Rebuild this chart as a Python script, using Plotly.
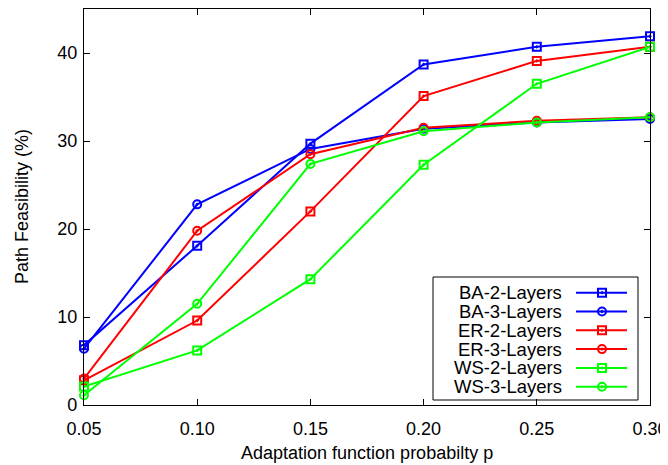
import plotly.graph_objects as go

p = [0.05, 0.10, 0.15, 0.20, 0.25, 0.30]
tick_labels = ["0.05", "0.10", "0.15", "0.20", "0.25", "0.30"]
y_ticks = [0, 10, 20, 30, 40]

names = ["BA-2-Layers", "BA-3-Layers", "ER-2-Layers", "ER-3-Layers", "WS-2-Layers", "WS-3-Layers"]
ba2 = [6.8, 18.1, 29.7, 38.7, 40.7, 41.9]
ba3 = [6.4, 22.8, 29.1, 31.4, 32.1, 32.5]
er2 = [2.8, 9.6, 22.0, 35.1, 39.1, 40.7]
er3 = [3.0, 19.8, 28.5, 31.5, 32.3, 32.7]
ws2 = [2.1, 6.2, 14.3, 27.3, 36.5, 40.7]
ws3 = [1.1, 11.5, 27.4, 31.1, 32.1, 32.7]

series = [ba2, ba3, er2, er3, ws2, ws3]
colors = ["#0000ff", "#0000ff", "#ff0000", "#ff0000", "#00ff00", "#00ff00"]
symbols = ["square-open-dot", "circle-open-dot"] * 3

FONT = "Liberation Sans, Arial, sans-serif"
OFF = 8  # default page body margin
W, H = 668 - OFF, 465 - OFF
# plot area in page pixels: left 84, right 650, top 9, bottom 405
L, R, T, B = 84 - OFF, W - (650 - OFF), 9 - OFF, H - (405 - OFF)
PW, PH = W - L - R, H - T - B

fig = go.Figure()
for name, vals, c, s in zip(names, series, colors, symbols):
    fig.add_trace(go.Scatter(
        x=p, y=vals, name=name, mode="lines+markers",
        line=dict(color=c, width=2),
        marker=dict(symbol=s, size=8, color=c, line=dict(color=c, width=2)),
        cliponaxis=False, showlegend=False,
    ))

# custom gnuplot-style legend (text right, sample on the right), page-pixel overlay axes
row0, dy = 292.7, 18.8
for i, (name, c, s) in enumerate(zip(names, colors, symbols)):
    yy = row0 + i * dy
    fig.add_trace(go.Scatter(
        x=[576, 602, 627], y=[yy, yy, yy], mode="lines+markers",
        line=dict(color=c, width=2),
        marker=dict(symbol=s, size=8, color=c, line=dict(color=c, width=2),
                    opacity=[0, 1, 0]),
        xaxis="x2", yaxis="y2", showlegend=False, hoverinfo="skip", cliponaxis=False,
    ))
    fig.add_annotation(x=564, y=yy, xref="x2", yref="y2", text=name,
                       xanchor="right", yanchor="middle", showarrow=False,
                       font=dict(family=FONT, size=18.5, color="black"))

fig.add_shape(type="rect", xref="x2", yref="y2", x0=433, x1=638, y0=277, y1=400,
              line=dict(color="black", width=1), fillcolor="rgba(0,0,0,0)")

axis_common = dict(
    showline=True, linecolor="black", linewidth=1.2, mirror="ticks",
    ticks="inside", ticklen=6, tickcolor="black", tickwidth=1,
    showgrid=False, zeroline=False,
    tickfont=dict(family=FONT, size=18, color="black"),
)

fig.update_layout(
    width=W, height=H,
    margin=dict(l=L, r=R, t=T, b=B, pad=0),
    paper_bgcolor="white", plot_bgcolor="white",
    font=dict(family=FONT, color="black"),
    xaxis=dict(range=[0.05, 0.30], tickvals=p, ticktext=tick_labels,
               ticklabelstandoff=7, **axis_common),
    yaxis=dict(range=[0, 45], tickvals=y_ticks, ticklabelstandoff=2, **axis_common),
    xaxis2=dict(overlaying="x", range=[84, 650], visible=False, fixedrange=True),
    yaxis2=dict(overlaying="y", range=[405, 9], visible=False, fixedrange=True),
    showlegend=False,
)

fig.add_annotation(x=0.5, y=((405 - OFF) - (453 - OFF)) / PH, xref="paper", yref="paper",
                   text="Adaptation function probabilty p", showarrow=False,
                   xanchor="center", yanchor="middle",
                   font=dict(family=FONT, size=18, color="black"))
fig.add_annotation(x=(22 - 84) / PW, y=0.5, xref="paper", yref="paper",
                   text="Path Feasibility (%)", showarrow=False, textangle=-90,
                   xanchor="center", yanchor="middle",
                   font=dict(family=FONT, size=18, color="black"))

fig.write_html("out.html")
